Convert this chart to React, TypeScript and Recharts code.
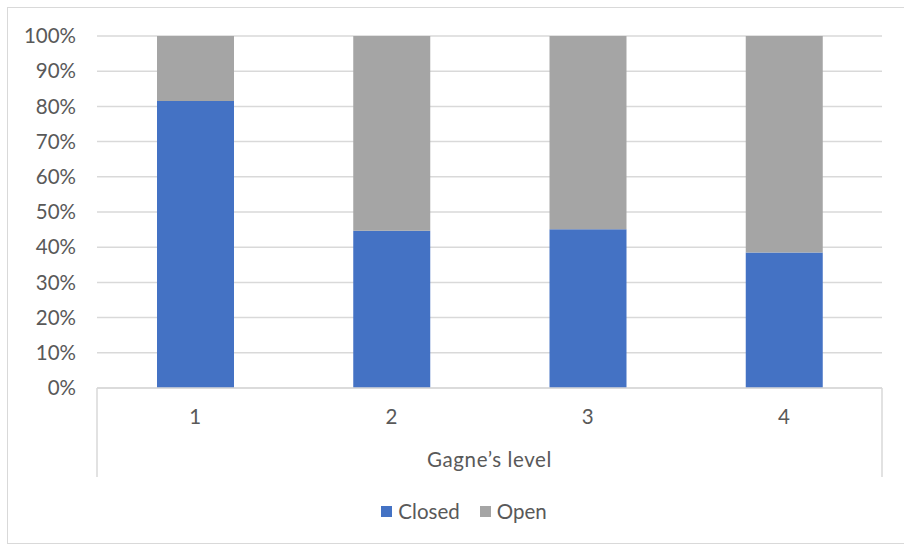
import { BarChart, Bar, XAxis, YAxis, CartesianGrid, Legend } from "recharts";

// Gagne's level categories
const levels = ["1", "2", "3", "4"];
// share of questions per level (percent)
const closedShare = [81.5, 44.7, 45.1, 38.5];
const openShare = [18.5, 55.3, 54.9, 61.5];
const yTicks = [0, 0.1, 0.2, 0.3, 0.4, 0.5, 0.6, 0.7, 0.8, 0.9, 1];

const BLUE = "#4472C4";
const GREY = "#A5A5A5";
const TEXT = "#595959";
const LINE = "#D9D9D9";
const FONT = "Lato, 'Open Sans', sans-serif";
const FS = 20.5;

const data = levels.map((level, i) => ({
  level,
  Closed: closedShare[i],
  Open: openShare[i],
}));

// axis "table" box + title under the categories
const AxisBox = (props: any) => {
  const { x, y, width } = props.viewBox ?? {};
  return (
    <g>
      <line x1={x} y1={y} x2={x} y2={y + 89} stroke={LINE} strokeWidth={1.5} />
      <line x1={x + width} y1={y} x2={x + width} y2={y + 89} stroke={LINE} strokeWidth={1.5} />
      <text
        x={x + width / 2}
        y={y + 74}
        textAnchor="middle"
        dominantBaseline="middle"
        fill={TEXT}
        fontSize={FS}
        fontFamily={FONT}
        letterSpacing={0.6}
      >
        Gagne’s level
      </text>
    </g>
  );
};

const LegendBox = () => (
  <div
    style={{
      height: 24,
      display: "flex",
      justifyContent: "center",
      alignItems: "center",
      gap: 20,
      paddingLeft: 46,
      fontFamily: FONT,
      fontSize: FS,
      color: TEXT,
    }}
  >
    {[
      { name: "Closed", color: BLUE },
      { name: "Open", color: GREY },
    ].map((item) => (
      <span key={item.name} style={{ display: "flex", alignItems: "center" }}>
        <span
          style={{ width: 11, height: 11, background: item.color, marginRight: 6, display: "inline-block" }}
        />
        {item.name}
      </span>
    ))}
  </div>
);

export default function App() {
  return (
    <div style={{ position: "absolute", left: 0, top: 0, width: 904, height: 545, background: "#fff" }}>
      <div
        style={{
          position: "absolute",
          left: 7,
          top: 7,
          width: 900,
          height: 535,
          border: `1px solid ${LINE}`,
        }}
      />
      <BarChart
        width={904}
        height={545}
        data={data}
        stackOffset="expand"
        margin={{ top: 36, right: 22, bottom: 22, left: 0 }}
        barSize={77}
        style={{ position: "absolute", left: 0, top: 0 }}
      >
        <CartesianGrid vertical={false} stroke={LINE} strokeWidth={1.5} />
        <YAxis
          width={97}
          domain={[0, 1]}
          ticks={yTicks}
          tickFormatter={(v: number) => `${Math.round(v * 100)}%`}
          axisLine={false}
          tickLine={false}
          tickSize={0}
          tickMargin={21}
          tick={{ fill: TEXT, fontSize: FS, fontFamily: FONT }}
        />
        <XAxis
          dataKey="level"
          height={111}
          axisLine={{ stroke: LINE, strokeWidth: 1.5 }}
          tickLine={false}
          tickSize={0}
          tickMargin={21}
          tick={{ fill: TEXT, fontSize: FS, fontFamily: FONT }}
          label={{ content: AxisBox }}
        />
        <Legend verticalAlign="bottom" content={LegendBox} />
        <Bar dataKey="Closed" stackId="a" fill={BLUE} isAnimationActive={false} />
        <Bar dataKey="Open" stackId="a" fill={GREY} isAnimationActive={false} />
      </BarChart>
    </div>
  );
}
